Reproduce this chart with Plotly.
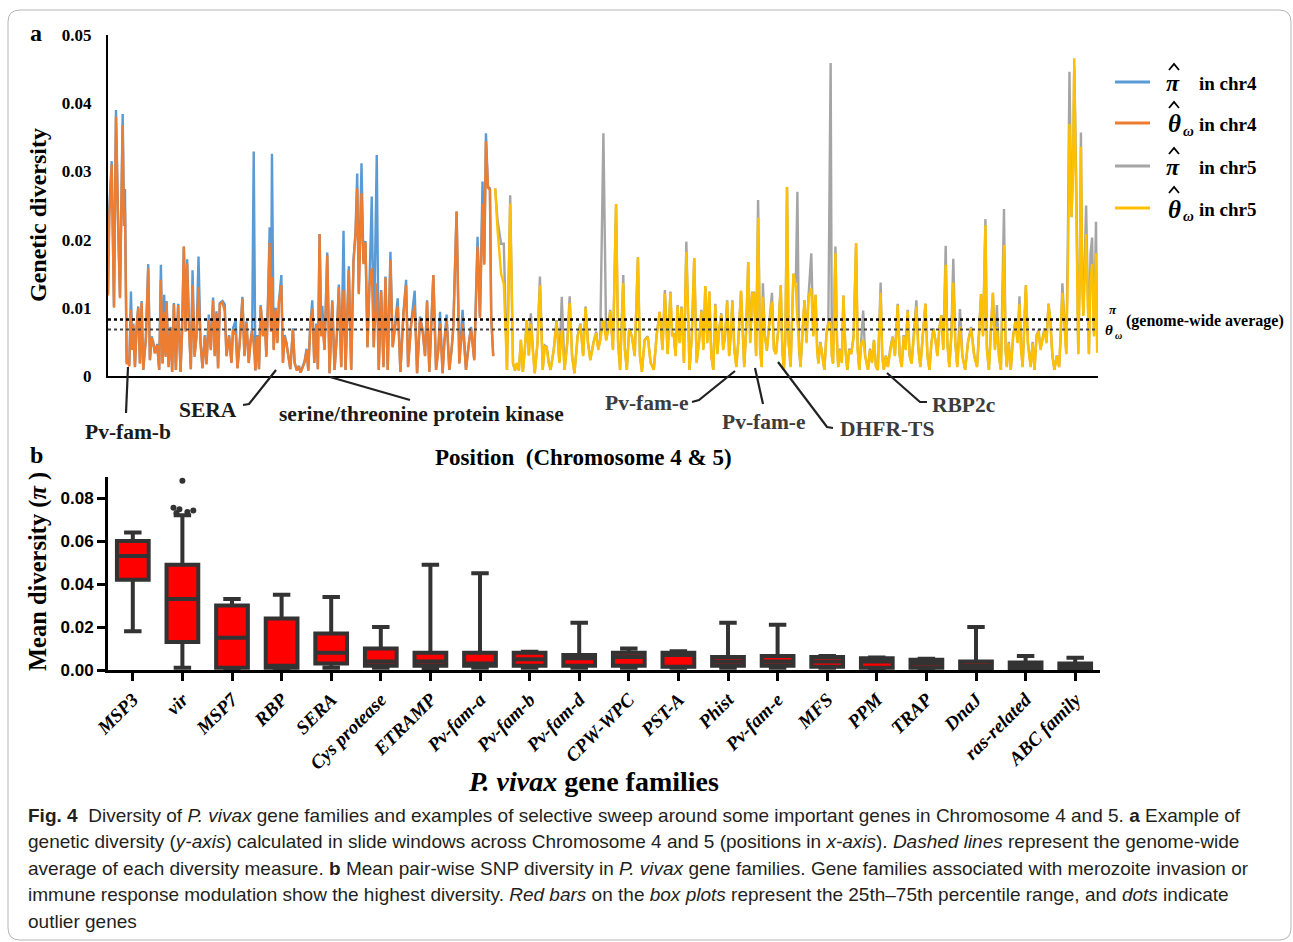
import plotly.graph_objects as go

W, H = 1293, 942
def X(px): return px / W
def Y(py): return 1 - py / H

# ---------------- Panel a data (window position, diversity) ----------------
chr4_pos = [0,1.3,3.7,6,8,9.3,10.3,12,13.3,14.7,16,17,18.7,20.3,21.3,23,24.3,25.3,27,28.7,
            30.3,32,33.7,35.3,38,40.3,42,43.7,45.3,47,49.3,51.3,53,54.7,56.3,57.7,58.7,60.7,62.7,64.3,
            66,68,70.3,72.7,74.3,76,77.7,79.3,81.3,83,84.7,86.7,88.7,90.7,92.7,94.7,97,98.7,101,103,
            105.3,107,108.7,110.3,112,114.7,117,118.7,121.3,123.7,125.3,128,129.7,132,134.7,136.7,138.7,141,142.7,144.5,
            146,147.7,149.7,151.3,153,155.3,157,158.7,160.3,162,163.3,164.3,166,168,169.7,171.3,173.7,175.3,177,178.7,
            180.7,182.7,185.3,187,189.3,191.3,193,195,197,199,200.7,202.7,204.7,206.7,208.7,210.3,212,213.7,214.7,217,
            219.7,222,224.7,227,229.3,231.3,233.7,236,238,241.3,243.7,246,248,249.7,251.3,254,256,258,260,262,
            264.3,266.3,269.3,271.3,273.7,276,278,280.3,283,285.3,288,290.3,293,296,298.7,300.7,303.7,307.3,309.7,312.7,
            315.3,317.7,319.7,322,326,328.7,331,332.7,335.3,337,339.3,342,344.3,346,349.3,352,355.3,358.7,361.7,363.7,
            367,370.3,372.7,375.3,377,378.7,380.7,382.7,384,386]
chr4_pi = [.0121,.0246,.0315,.0102,.0390,.0280,.0215,.0116,.0240,.0384,.0230,.0274,.0020,.0022,.0015,.0124,.0040,.0077,.0014,.0073,
           .0102,.0019,.0110,.0009,.0057,.0164,.0024,.0058,.0050,.0034,.0047,.0009,.0163,.0019,.0119,.0030,.0110,.0014,.0072,.0006,
           .0107,.0009,.0106,.0006,.0070,.0190,.0067,.0171,.0068,.0010,.0155,.0030,.0060,.0175,.0050,.0012,.0060,.0018,.0090,.0040,
           .0115,.0030,.0095,.0012,.0107,.0110,.0105,.0030,.0060,.0020,.0070,.0082,.0012,.0050,.0116,.0030,.0080,.0020,.0050,.0070,
           .0329,.0008,.0060,.0010,.0104,.0060,.0085,.0030,.0110,.0218,.0070,.0326,.0040,.0100,.0050,.0110,.0148,.0020,.0060,.0050,
           .0030,.0010,.0070,.0020,.0008,.0015,.0005,.0015,.0022,.0040,.0008,.0075,.0111,.0020,.0077,.0010,.0208,.0060,.0103,.0039,
           .0181,.0004,.0111,.0009,.0060,.0134,.0014,.0213,.0009,.0161,.0009,.0170,.0210,.0297,.0122,.0312,.0166,.0198,.0043,.0136,
           .0263,.0043,.0324,.0009,.0126,.0014,.0146,.0009,.0182,.0043,.0082,.0114,.0006,.0092,.0141,.0014,.0077,.0125,.0004,.0087,
           .0067,.0030,.0111,.0006,.0148,.0009,.0040,.0094,.0004,.0050,.0090,.0009,.0040,.0072,.0241,.0019,.0097,.0009,.0050,.0072,
           .0024,.0204,.0087,.0285,.0165,.0356,.0278,.0275,.0087,.0030]
chr4_theta = [.0118,.0232,.0310,.0100,.0380,.0270,.0210,.0114,.0230,.0368,.0220,.0243,.0019,.0020,.0014,.0097,.0038,.0075,.0013,.0071,
              .0100,.0018,.0107,.0009,.0055,.0158,.0023,.0056,.0048,.0033,.0045,.0009,.0141,.0018,.0094,.0028,.0108,.0013,.0070,.0006,
              .0105,.0009,.0104,.0006,.0068,.0190,.0065,.0165,.0066,.0010,.0133,.0028,.0058,.0130,.0048,.0011,.0058,.0017,.0082,.0038,
              .0111,.0029,.0092,.0011,.0105,.0108,.0095,.0029,.0058,.0019,.0068,.0060,.0011,.0048,.0113,.0029,.0078,.0019,.0048,.0066,
              .0045,.0008,.0058,.0010,.0102,.0058,.0083,.0028,.0105,.0195,.0065,.0145,.0038,.0098,.0048,.0108,.0133,.0019,.0058,.0048,
              .0029,.0010,.0068,.0019,.0008,.0014,.0005,.0014,.0020,.0038,.0008,.0073,.0099,.0019,.0075,.0010,.0208,.0058,.0080,.0038,
              .0177,.0004,.0109,.0009,.0058,.0130,.0013,.0126,.0009,.0155,.0009,.0168,.0208,.0275,.0120,.0268,.0164,.0196,.0042,.0134,
              .0158,.0042,.0136,.0009,.0124,.0013,.0144,.0009,.0170,.0042,.0080,.0102,.0006,.0090,.0133,.0013,.0075,.0104,.0004,.0085,
              .0065,.0029,.0109,.0006,.0148,.0009,.0038,.0077,.0004,.0048,.0082,.0009,.0038,.0070,.0241,.0018,.0077,.0009,.0048,.0070,
              .0023,.0190,.0085,.0253,.0163,.0344,.0276,.0273,.0085,.0029]

chr5_pos = [388,390.3,393.9,396.6,399.8,403,405.8,407.8,409.8,411.7,413.7,415.7,417.7,419.7,421.7,423.7,425.7,427.6,430.4,432.8,
            435.6,437.6,439.6,441.6,443.5,446.7,449.5,452.3,454.7,457.5,460.2,462.6,465,467.4,470.6,473.4,476.1,478.5,480.9,483.3,
            486.5,489.2,491.2,493.2,496.4,499.2,501.2,503.2,506,509.1,511.1,513.1,516.3,517.9,519.9,522.2,525,527.8,531,533,
            535,537.7,540.9,543.7,546.9,549.7,552.8,555.6,558,560.8,563.6,565.2,566.8,568.7,570.7,572.7,574.7,577.1,579.5,582.7,
            585,587.4,589.8,592.2,594.6,596.6,598.5,600.5,602.5,604.5,606.5,608.5,610.5,612.5,614.5,616.4,618.4,620.4,622.4,624.4,
            625.6,627.6,629.6,631.5,634.3,635.9,637.5,639.5,641.5,643.5,645.5,647.4,649.4,651.4,653.4,655,656.2,658.2,660.2,662.1,
            665.3,667.3,669.3,671.7,674.1,675.7,677.2,678.8,680.4,682,684,686.8,689.2,690.8,692.4,693.9,695.9,697.9,699.9,701.9,
            704.7,706.7,709,710.6,711.8,713.8,715.8,717.8,719.8,721.8,724.1,725.3,726.5,728.9,730.5,731.7,733.7,735.3,736.9,738.9,
            740.8,742.8,744.8,747.2,749.6,751.2,752.8,754.8,756.7,758.7,761.5,763.5,765.5,767.5,769.5,771.4,774.2,775.8,777.4,779.4,
            781.4,783.8,786.2,788.5,791.3,793.3,795.3,797.3,799.3,801.3,803.3,805.2,807.6,810,812,814,816.4,819.1,821.1,823.1,
            825.1,827.1,829.1,831.1,833,835,837,839.4,841,843,845,847,849,851,853.7,856.1,858.9,861.7,864.8,868,
            870.8,872.8,874.8,876.8,879.2,880.7,882.7,884.7,886.7,888.7,890.7,892.7,894.7,897.8,899.4,900.6,902.6,904.6,907,909.4,
            911.4,913.3,914.9,916.5,918.1,919.7,921.7,924.5,926.5,928.4,930.4,932.4,934.4,936.4,938.4,940.4,942.4,944.3,946.3,948.3,
            950.7,953.1,954.7,956.3,958.2,960.2,961.8,963.4,965.4,967,968.2,970.2,972.2,973.7,974.9,976.1,977.3,978.9,980.1,981.7,
            982.9,984.5,986.1,988,990,991.2]
chr5_pi = [.0275,.0229,.0194,.0194,.0009,.0265,.0019,.0008,.0019,.0008,.0053,.0006,.0040,.0082,.0030,.0092,.0040,.0004,.0050,.0146,
           .0009,.0045,.0043,.0020,.0009,.0040,.0082,.0020,.0116,.0009,.0050,.0117,.0030,.0004,.0060,.0077,.0030,.0102,.0050,.0024,
           .0050,.0065,.0040,.0053,.0356,.0053,.0070,.0097,.0040,.0252,.0050,.0009,.0148,.0040,.0009,.0070,.0058,.0030,.0174,.0030,
           .0006,.0053,.0058,.0020,.0009,.0060,.0094,.0040,.0126,.0033,.0124,.0060,.0063,.0030,.0104,.0050,.0102,.0020,.0197,.0009,
           .0060,.0173,.0020,.0050,.0097,.0040,.0132,.0050,.0124,.0030,.0009,.0106,.0033,.0070,.0092,.0040,.0060,.0111,.0030,.0070,
           .0111,.0040,.0014,.0050,.0125,.0060,.0014,.0070,.0167,.0050,.0122,.0122,.0030,.0258,.0040,.0014,.0136,.0060,.0038,.0070,
           .0122,.0040,.0033,.0070,.0133,.0040,.0009,.0060,.0277,.0050,.0014,.0150,.0136,.0270,.0040,.0014,.0070,.0111,.0050,.0116,
           .0180,.0060,.0119,.0040,.0019,.0050,.0030,.0009,.0060,.0080,.0459,.0030,.0019,.0190,.0050,.0014,.0040,.0020,.0118,.0040,
           .0009,.0040,.0033,.0060,.0195,.0040,.0009,.0050,.0096,.0030,.0009,.0040,.0020,.0053,.0014,.0009,.0137,.0030,.0009,.0030,
           .0014,.0040,.0058,.0030,.0106,.0030,.0014,.0060,.0040,.0097,.0030,.0019,.0060,.0111,.0040,.0014,.0060,.0106,.0030,.0009,
           .0050,.0070,.0053,.0030,.0070,.0089,.0040,.0191,.0050,.0014,.0060,.0172,.0050,.0014,.0098,.0030,.0009,.0050,.0072,.0030,
           .0014,.0060,.0120,.0060,.0230,.0040,.0009,.0070,.0122,.0040,.0104,.0030,.0009,.0245,.0040,.0014,.0050,.0009,.0060,.0082,
           .0050,.0117,.0040,.0014,.0070,.0133,.0050,.0014,.0050,.0009,.0060,.0067,.0040,.0053,.0070,.0050,.0106,.0080,.0030,.0009,
           .0030,.0014,.0060,.0136,.0080,.0033,.0200,.0446,.0233,.0300,.0455,.0287,.0033,.0150,.0357,.0150,.0090,.0180,.0250,.0130,
           .0033,.0180,.0203,.0060,.0226,.0035]
chr5_theta = [.0275,.0215,.0150,.0135,.0009,.0253,.0019,.0008,.0019,.0008,.0053,.0006,.0040,.0082,.0030,.0077,.0038,.0004,.0048,.0133,
              .0009,.0043,.0042,.0019,.0009,.0038,.0080,.0019,.0067,.0009,.0048,.0107,.0029,.0004,.0058,.0075,.0029,.0100,.0048,.0023,
              .0048,.0063,.0038,.0052,.0082,.0052,.0068,.0095,.0038,.0252,.0048,.0009,.0136,.0038,.0009,.0068,.0057,.0029,.0174,.0029,
              .0006,.0052,.0057,.0019,.0009,.0058,.0094,.0038,.0121,.0032,.0122,.0058,.0062,.0029,.0102,.0048,.0100,.0019,.0182,.0009,
              .0058,.0173,.0019,.0048,.0095,.0038,.0132,.0048,.0124,.0029,.0009,.0104,.0032,.0068,.0090,.0038,.0058,.0109,.0029,.0068,
              .0109,.0038,.0013,.0048,.0125,.0058,.0013,.0068,.0167,.0048,.0122,.0120,.0029,.0232,.0038,.0013,.0116,.0058,.0037,.0068,
              .0109,.0038,.0032,.0068,.0133,.0038,.0009,.0058,.0277,.0048,.0013,.0150,.0132,.0082,.0038,.0013,.0068,.0111,.0048,.0116,
              .0128,.0058,.0119,.0038,.0018,.0048,.0029,.0009,.0058,.0078,.0077,.0029,.0018,.0180,.0048,.0013,.0038,.0019,.0118,.0038,
              .0009,.0038,.0032,.0058,.0195,.0038,.0009,.0048,.0053,.0029,.0009,.0038,.0019,.0052,.0013,.0009,.0122,.0029,.0009,.0029,
              .0013,.0038,.0057,.0029,.0104,.0029,.0013,.0058,.0038,.0095,.0029,.0018,.0058,.0102,.0038,.0013,.0058,.0106,.0029,.0009,
              .0048,.0068,.0052,.0029,.0068,.0089,.0038,.0163,.0048,.0013,.0058,.0137,.0048,.0013,.0072,.0029,.0009,.0048,.0070,.0029,
              .0013,.0058,.0120,.0058,.0221,.0038,.0009,.0068,.0122,.0038,.0072,.0029,.0009,.0192,.0038,.0013,.0048,.0009,.0058,.0080,
              .0048,.0106,.0038,.0013,.0068,.0133,.0048,.0013,.0048,.0009,.0058,.0066,.0038,.0052,.0068,.0048,.0106,.0078,.0029,.0009,
              .0029,.0013,.0058,.0122,.0078,.0032,.0150,.0370,.0233,.0300,.0466,.0230,.0032,.0140,.0336,.0140,.0088,.0150,.0208,.0110,
              .0032,.0140,.0164,.0058,.0180,.0034]

genome_avg_pi = 0.0083
genome_avg_theta = 0.0068

# ---------------- Panel b data (box plot statistics) ----------------
families = ["MSP3","vir","MSP7","RBP","SERA","Cys protease","ETRAMP","Pv-fam-a","Pv-fam-b","Pv-fam-d",
            "CPW-WPC","PST-A","Phist","Pv-fam-e","MFS","PPM","TRAP","DnaJ","ras-related","ABC family"]
upper = [0.064,0.072,0.033,0.035,0.034,0.020,0.049,0.045,0.0085,0.022,0.010,0.0087,0.022,0.021,0.0065,0.0058,0.0052,0.020,0.0065,0.0057]
q3    = [0.060,0.049,0.030,0.024,0.017,0.010,0.008,0.008,0.0080,0.007,0.008,0.0080,0.006,0.0065,0.0060,0.0055,0.0048,0.004,0.0035,0.0030]
med   = [0.053,0.033,0.015,0.002,0.008,0.004,0.004,0.003,0.0050,0.0055,0.006,0.0070,0.004,0.004,0.0040,0.0040,0.0030,0.002,0.0020,0.0015]
q1    = [0.042,0.013,0.001,0.001,0.003,0.002,0.002,0.002,0.0020,0.002,0.002,0.0015,0.002,0.002,0.0015,0.0010,0.0010,0.0005,0.0005,0.0005]
lower = [0.018,0.001,0.0003,0.0005,0.001,0.001,0.0005,0.001,0.0010,0.001,0.001,0.0010,0.001,0.001,0.0010,0.0005,0.0005,0.0,0.0,0.0]
vir_outliers = [0.088,0.0755,0.0748,0.0742,0.0735,0.0730]
vir_outlier_jitter = [0.0,-0.18,-0.06,0.22,0.10,-0.12]

blue, orange, gray, yellow = "#5b9bd5", "#ed7d31", "#a5a5a5", "#ffc000"
SERIF = "Liberation Serif"

fig = go.Figure()
for xs, ys, c in [(chr4_pos, chr4_pi, blue), (chr4_pos, chr4_theta, orange),
                  (chr5_pos, chr5_pi, gray), (chr5_pos, chr5_theta, yellow)]:
    fig.add_trace(go.Scatter(x=xs, y=ys, mode="lines", line=dict(color=c, width=2.4),
                             xaxis="x", yaxis="y", showlegend=False, hoverinfo="skip"))

idx = list(range(len(families)))
fig.add_trace(go.Box(x=idx, q1=q1, median=med, q3=q3, lowerfence=lower, upperfence=upper,
                     fillcolor="#ff0000", line=dict(color="#333333", width=4),
                     whiskerwidth=0.55, boxpoints=False, xaxis="x2", yaxis="y2", showlegend=False))
vir_i = families.index("vir")
fig.add_trace(go.Scatter(x=[vir_i + j for j in vir_outlier_jitter], y=vir_outliers, mode="markers",
                         marker=dict(color="#333333", size=6), xaxis="x2", yaxis="y2", showlegend=False))

fig.update_layout(
    width=W, height=H, margin=dict(l=0, r=0, t=0, b=0, autoexpand=False),
    paper_bgcolor="white", plot_bgcolor="white", showlegend=False, boxgap=0.36, boxgroupgap=0,
    xaxis=dict(domain=[X(108), X(1098)], range=[0, 992], showline=True, linecolor="black", linewidth=2,
               showticklabels=False, ticks="", showgrid=False, zeroline=False, automargin=False),
    yaxis=dict(domain=[Y(376), Y(35)], range=[0, 0.05], showline=True, linecolor="black", linewidth=2,
               tickvals=[0, 0.01, 0.02, 0.03, 0.04, 0.05], ticktext=["0", "0.01", "0.02", "0.03", "0.04", "0.05"],
               tickfont=dict(family=SERIF, size=17, color="black", weight="bold"), ticks="",
               ticklabelstandoff=11, showgrid=False, zeroline=False, automargin=False),
    xaxis2=dict(domain=[X(108), X(1100)], range=[-0.5, 19.5], showline=True, linecolor="black", linewidth=3,
                tickvals=idx, ticktext=families, tickangle=-45, ticks="outside", ticklen=8, tickwidth=3,
                tickcolor="black", tickfont=dict(family=SERIF, size=19, color="black", weight="bold", style="italic"),
                showgrid=False, zeroline=False, anchor="y2", automargin=False),
    yaxis2=dict(domain=[Y(670), Y(477)], range=[0, 0.0898], showline=True, linecolor="black", linewidth=3,
                tickvals=[0, 0.02, 0.04, 0.06, 0.08], ticktext=["0.00", "0.02", "0.04", "0.06", "0.08"],
                ticks="outside", ticklen=8, tickwidth=3, tickcolor="black",
                tickfont=dict(family="Liberation Sans", size=17, color="black", weight="bold"),
                showgrid=False, zeroline=False, anchor="x2", automargin=False),
)

shapes = []
shapes.append(dict(type="line", xref="x", yref="y", x0=0, x1=992, y0=genome_avg_pi, y1=genome_avg_pi,
                   line=dict(color="black", width=2.5, dash="dot")))
shapes.append(dict(type="line", xref="x", yref="y", x0=0, x1=992, y0=genome_avg_theta, y1=genome_avg_theta,
                   line=dict(color="#444444", width=2, dash="dot")))

def path(points):
    return "M " + " L ".join(f"{X(a):.5f},{Y(b):.5f}" for a, b in points)

leaders = [
    [(128, 367), (126, 413)],
    [(243, 405), (249, 404), (276, 370)],
    [(330, 377), (410, 400)],
    [(692, 402), (699, 400), (735, 371)],
    [(755, 368), (763, 404)],
    [(778, 362), (827, 427), (833, 428)],
    [(887, 373), (920, 402), (927, 402)],
]
for pts in leaders:
    shapes.append(dict(type="path", xref="paper", yref="paper", path=path(pts),
                       line=dict(color="#222222", width=2.2)))

legend_y = [82, 123, 166, 208]
legend_sym = ["π", "θ", "π", "θ"]
legend_txt = ["in chr4", "in chr4", "in chr5", "in chr5"]
for c, yy, sym in zip([blue, orange, gray, yellow], legend_y, legend_sym):
    shapes.append(dict(type="line", xref="paper", yref="paper", x0=X(1115), x1=X(1150), y0=Y(yy), y1=Y(yy),
                       line=dict(color=c, width=3)))
    hy = yy - 16 if sym == "π" else yy - 19
    shapes.append(dict(type="path", xref="paper", yref="paper",
                       path=path([(1169, hy + 4), (1174, hy - 2), (1179, hy + 4)]),
                       line=dict(color="black", width=1.8)))

r = 12
x0, y0, x1, y1 = 8, 10, 1291, 940
frame = (f"M {X(x0+r)},{Y(y0)} L {X(x1-r)},{Y(y0)} Q {X(x1)},{Y(y0)} {X(x1)},{Y(y0+r)} "
         f"L {X(x1)},{Y(y1-r)} Q {X(x1)},{Y(y1)} {X(x1-r)},{Y(y1)} L {X(x0+r)},{Y(y1)} "
         f"Q {X(x0)},{Y(y1)} {X(x0)},{Y(y1-r)} L {X(x0)},{Y(y0+r)} Q {X(x0)},{Y(y0)} {X(x0+r)},{Y(y0)} Z")
shapes.append(dict(type="path", xref="paper", yref="paper", path=frame, line=dict(color="#b5b5b5", width=1)))
fig.update_layout(shapes=shapes)

ann = []
def text(x, y, s, size, color="black", family=SERIF, xanchor="center", angle=0):
    ann.append(dict(x=X(x), y=Y(y), xref="paper", yref="paper", text=s, showarrow=False,
                    xanchor=xanchor, yanchor="middle", textangle=angle, borderpad=0,
                    font=dict(family=family, size=size, color=color)))

text(36, 33, "<b>a</b>", 24)
text(36, 455, "<b>b</b>", 24)
text(38, 215, "<b>Genetic diversity</b>", 24, angle=-90)
text(38, 572, "<b>Mean diversity (<i>π</i> )</b>", 24.5, angle=-90)
text(583, 457, "<b>Position  (Chromosome 4 &amp; 5)</b>", 23)
text(593, 781, "<b><i>P. vivax</i> gene families</b>", 28)

text(128, 432, "<b>Pv-fam-b</b>", 21.5, "#1a1a1a")
text(208, 410, "<b>SERA</b>", 21.5, "#1a1a1a")
text(421, 414, "<b>serine/threonine protein kinase</b>", 21.5, "#1a1a1a")
text(647, 403, "<b>Pv-fam-e</b>", 21.5, "#3c3c3c")
text(764, 422, "<b>Pv-fam-e</b>", 21.5, "#3c3c3c")
text(887, 429, "<b>DHFR-TS</b>", 21.5, "#3c3c3c")
text(963, 405, "<b>RBP2c</b>", 21.5, "#3c3c3c")

# legend labels
for sym, s, yy in zip(legend_sym, legend_txt, legend_y):
    if sym == "θ":
        text(1182, yy + 1, "<b><i>θ</i></b>", 25, xanchor="right")
        text(1182, yy + 8, "<b><i>ω</i></b>", 15, xanchor="left")
    else:
        text(1173, yy + 1, "<b><i>π</i></b>", 24)
    text(1198, yy + 2, f"<b>{s}</b>", 19, xanchor="left")

text(1113, 310, "<b><i>π</i></b>", 13)
text(1114, 330, "<b><i>θ</i></b>", 15, xanchor="right")
text(1114, 335, "<b><i>ω</i></b>", 10, xanchor="left")
text(1125, 321, "<b>(genome-wide average)</b>", 16, xanchor="left")

CAP = "Liberation Sans"
cap_lines = [
    "<b>Fig. 4</b>  Diversity of <i>P. vivax</i> gene families and examples of selective sweep around some important genes in Chromosome 4 and 5. <b>a</b> Example of",
    "genetic diversity (<i>y-axis</i>) calculated in slide windows across Chromosome 4 and 5 (positions in <i>x-axis</i>). <i>Dashed lines</i> represent the genome-wide",
    "average of each diversity measure. <b>b</b> Mean pair-wise SNP diversity in <i>P. vivax</i> gene families. Gene families associated with merozoite invasion or",
    "immune response modulation show the highest diversity. <i>Red bars</i> on the <i>box plots</i> represent the 25th–75th percentile range, and <i>dots</i> indicate",
    "outlier genes",
]
for i, s in enumerate(cap_lines):
    text(27, 815 + i * 26.5, s, 19, "#231f20", CAP, xanchor="left")

fig.update_layout(annotations=ann)
fig.write_html("out.html")
